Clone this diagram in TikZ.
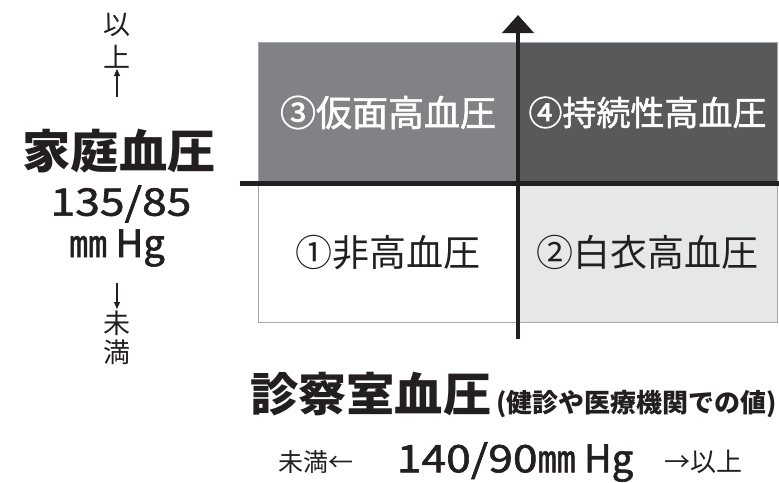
\documentclass[tikz,border=0pt]{standalone}
\usepackage{fontspec}
\setmainfont{Noto Sans CJK JP}
\newfontfamily\med[FakeBold=1.6]{Noto Sans CJK JP}
\newfontfamily\medw[FakeBold=1.6,FakeStretch=1.17]{Noto Sans CJK JP}
\newfontfamily\bw[FakeStretch=1.05]{Noto Sans CJK JP}
\usetikzlibrary{arrows.meta}
\definecolor{qdark}{HTML}{58595B}
\definecolor{qmid}{HTML}{808285}
\definecolor{qlight}{HTML}{E6E7E8}
\definecolor{qedge}{HTML}{A7A9AC}
\definecolor{ink}{HTML}{231F20}
\newcommand{\fs}[1]{\fontsize{#1}{#1}\selectfont}
\begin{document}
\begin{tikzpicture}[x=1pt,y=-1pt,
  quad/.style={draw=qedge,line width=0.9pt,inner sep=0pt,outer sep=0pt,anchor=center},
  lbl/.style={inner sep=0pt,outer sep=0pt,text=ink},
  axis/.style={draw=ink,line width=4.6pt},
  smallarrow/.style={draw=ink,line width=1.1pt,-{Triangle[width=6pt,length=7pt]}}]
\useasboundingbox (0,0) rectangle (779,482);
% quadrants
\node[quad,fill=qmid,minimum width=260,minimum height=141,text=white] (q3) at (388,112.5) {\fs{36}\med ③仮面高血圧};
\node[quad,fill=qdark,minimum width=259,minimum height=141,text=white] (q4) at (647.5,112.5) {\fs{34}\med ④持続性高血圧};
\node[quad,fill=white,minimum width=260,minimum height=139,text=ink] (q1) at (388,252.5) {\fs{37}①非高血圧};
\node[quad,fill=qlight,minimum width=259,minimum height=139,text=ink] (q2) at (647.5,252.5) {\fs{37}②白衣高血圧};
% axes
\coordinate (hl) at (240,183.3);
\coordinate (hr) at (781,183.3);
\coordinate (vb) at (518,339);
\coordinate (vt) at (518,15);
\draw[axis] (hl) -- (hr);
\draw[axis,-{Triangle[width=31pt,length=18pt]}] (vb) -- (vt);
% left labels
\node[lbl] (i1) at (117,25) {\fs{27}以};
\node[lbl] (u1) at (117,57) {\fs{27}上};
\coordinate (a1s) at (117,97);
\coordinate (a1e) at (117,69);
\draw[smallarrow] (a1s) -- (a1e);
\node[lbl] (home) at (119,151) {\fs{46}\bw\bfseries 家庭血圧};
\node[lbl] (hv1) at (121,204) {\fs{38}\medw 135/85};
\node[lbl] (hv2) at (117,248) {\fs{38}\med ㎜ Hg};
\coordinate (a2s) at (117,283);
\coordinate (a2e) at (117,309);
\draw[smallarrow] (a2s) -- (a2e);
\node[lbl] (m1) at (117,323) {\fs{27}未};
\node[lbl] (m2) at (117,352) {\fs{27}満};
% bottom labels
\node[lbl,anchor=west] (office) at (250,394) {\fs{46}\bw\bfseries 診察室血圧};
\node[lbl,anchor=west] (note) at (496,404) {\fs{26}\bfseries (健診や医療機関での値)};
\node[lbl] (lt) at (316,462) {\fs{25}未満←};
\node[lbl] (ov) at (515,462) {\fs{38}{\medw 140/90}{\med ㎜ Hg}};
\node[lbl] (ge) at (703,462) {\fs{26}→以上};
\end{tikzpicture}
\end{document}
